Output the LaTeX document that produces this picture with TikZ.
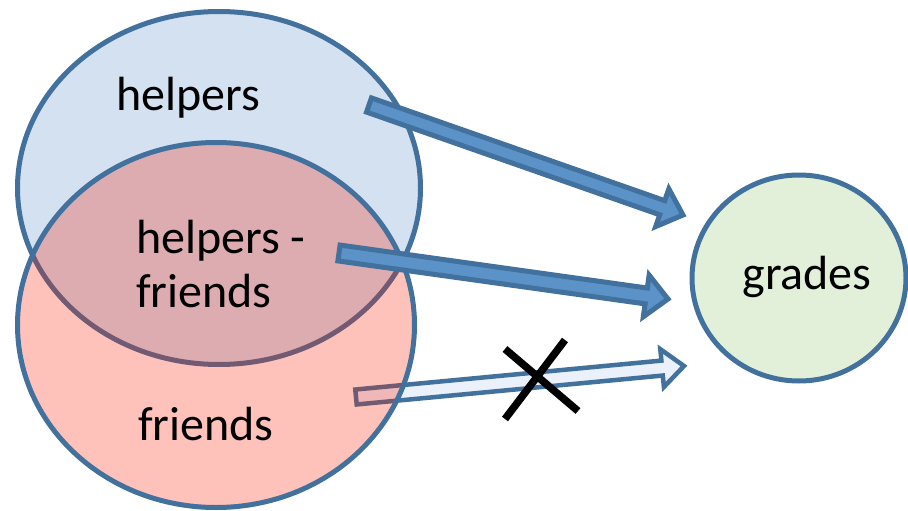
\documentclass[tikz,border=0pt]{standalone}
\usepackage{fontspec}
\setmainfont{Carlito}
\usetikzlibrary{shapes.geometric,calc}
\definecolor{edgeblue}{RGB}{65,113,156}
\definecolor{setblue}{RGB}{211,225,240}
\definecolor{setred}{RGB}{250,30,5}
\definecolor{gradegreen}{RGB}{226,240,217}
\definecolor{arrowblue}{RGB}{91,146,200}
\definecolor{arrowpale}{RGB}{235,241,250}
\tikzset{
  setshape/.style={ellipse, draw=edgeblue, line width=5pt, inner sep=0pt},
  lbl/.style={font=\fontsize{48}{52}\selectfont, inner sep=0pt, text=black},
  barrow/.style={draw=edgeblue, line width=5pt, line join=miter, fill=arrowblue},
  parrow/.style={draw=edgeblue, line width=4.5pt, line join=miter, fill=arrowpale},
  cross/.style={draw=black, line width=7.5pt}
}
\newcommand\blockarrow[6]{% style, tail, tip, half shaft, half head, head length
  \draw[#1] ($(#2)!#4!90:(#3)$)
    -- ($($(#3)!#6!(#2)$)!#4!90:(#3)$)
    -- ($($(#3)!#6!(#2)$)!#5!90:(#3)$)
    -- (#3)
    -- ($($(#3)!#6!(#2)$)!#5!-90:(#3)$)
    -- ($($(#3)!#6!(#2)$)!#4!-90:(#3)$)
    -- ($(#2)!#4!-90:(#3)$) -- cycle;}
\begin{document}
\begin{tikzpicture}[x=1pt,y=-1pt]
\useasboundingbox (0,0) rectangle (908,511);
% top set
\node[setshape, fill=setblue, minimum width=403pt, minimum height=353pt] (helpersset) at (219,188) {};
% pale arrow beneath the lower set
\coordinate (t3) at (356,397);
\coordinate (h3) at (684,366);
\blockarrow{parrow}{t3}{h3}{7.5pt}{19pt}{22pt}
% lower set, translucent
\node[setshape, fill=setred, fill opacity=0.27, minimum width=397pt, minimum height=365pt] (friendsset) at (216,325) {};
% grades
\node[ellipse, draw=edgeblue, line width=5pt, fill=gradegreen, minimum width=214pt, minimum height=206pt, inner sep=0pt] (grades) at (799,278) {};
\node[lbl] (gradestext) at (807,277) {grades};
% solid arrows
\coordinate (t1) at (369,105);
\coordinate (h1) at (683,215);
\blockarrow{barrow}{t1}{h1}{7.5pt}{20pt}{22pt}
\coordinate (t2) at (339,253);
\coordinate (h2) at (668,299);
\blockarrow{barrow}{t2}{h2}{8pt}{21pt}{22pt}
% cross
\coordinate (xa) at (505,349);
\coordinate (xb) at (578,411);
\coordinate (xc) at (565,340);
\coordinate (xd) at (505,419);
\draw[cross] (xa) -- (xb);
\draw[cross] (xc) -- (xd);
% labels
\node[lbl] (helperstext) at (188,98) {helpers};
\node[lbl, align=left, anchor=north west, text depth=0pt] (bothtext) at (136,220) {helpers -\\[2pt]friends};
\node[lbl] (friendstext) at (206,424) {friends};
\end{tikzpicture}
\end{document}
